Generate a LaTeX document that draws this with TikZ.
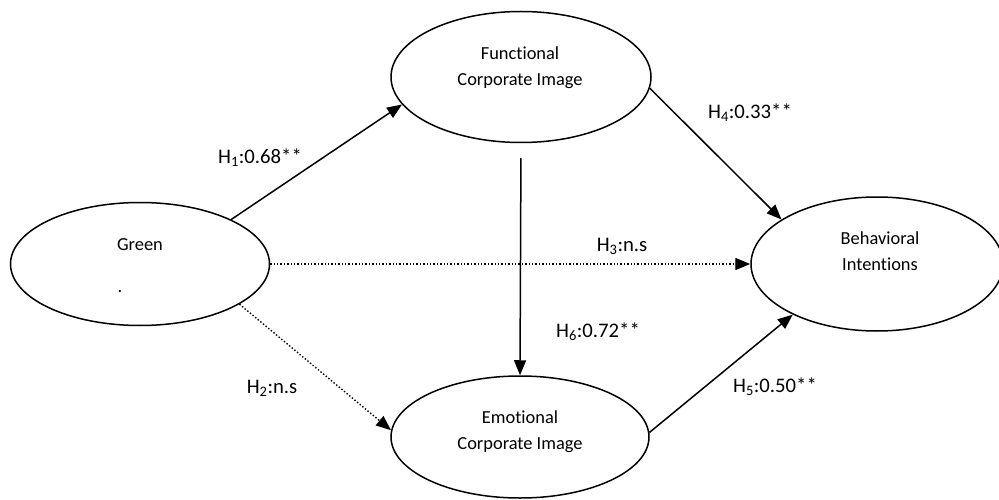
\documentclass[tikz,border=0pt]{standalone}
\usepackage{fontspec}
\setmainfont{Carlito}[RawFeature=-liga]
\usetikzlibrary{shapes.geometric,arrows.meta}
\begin{document}
\begin{tikzpicture}[x=1pt,y=-1pt,
  construct/.style={draw=black,line width=1.5pt,ellipse,inner sep=0pt},
  inner/.style={font=\fontsize{18.4}{26}\selectfont,align=center,inner sep=0pt},
  lab/.style={font=\fontsize{20.7}{24}\selectfont,inner sep=0pt},
  path/.style={line width=1.5pt,-{Triangle[length=15pt,width=12pt]}},
  npath/.style={line width=1.4pt,dotted,-{Triangle[length=15pt,width=12pt]}}]
\useasboundingbox (0,0) rectangle (999,500);
\node[construct,minimum width=259pt,minimum height=123pt] (G) at (140,264) {};
\node[construct,minimum width=260pt,minimum height=131pt] (F) at (521,77) {};
\node[construct,minimum width=252pt,minimum height=134pt] (B) at (877,264) {};
\node[construct,minimum width=258pt,minimum height=122pt] (E) at (520,437) {};
\node[inner] (gt) at (140,245) {Green};
\node[inner] (gd) at (120,292) {.};
\node[inner] (ft) at (520,68) {Functional\\Corporate Image};
\node[inner] (bt) at (880,251) {Behavioral\\Intentions};
\node[inner] (et) at (520,432) {Emotional\\Corporate Image};
\draw[path] (G.26.6) -- (F.193.7);
\draw[npath] (G.338.8) -- (E.177.8);
\draw[npath] (G.east) -- (B.west);
\draw[path] (F.-5) -- (B.155.6);
\draw[path] (E.2) -- (B.211);
\draw[path,shorten <=15pt] (F.south) -- (E.north);
\node[lab] (l1) at (260,158) {H\textsubscript{1}:0.68**};
\node[lab] (l2) at (272,388) {H\textsubscript{2}:n.s};
\node[lab] (l3) at (622,246) {H\textsubscript{3}:n.s};
\node[lab] (l4) at (750,113) {H\textsubscript{4}:0.33**};
\node[lab] (l5) at (775,387) {H\textsubscript{5}:0.50**};
\node[lab] (l6) at (598,332) {H\textsubscript{6}:0.72**};
\end{tikzpicture}
\end{document}
